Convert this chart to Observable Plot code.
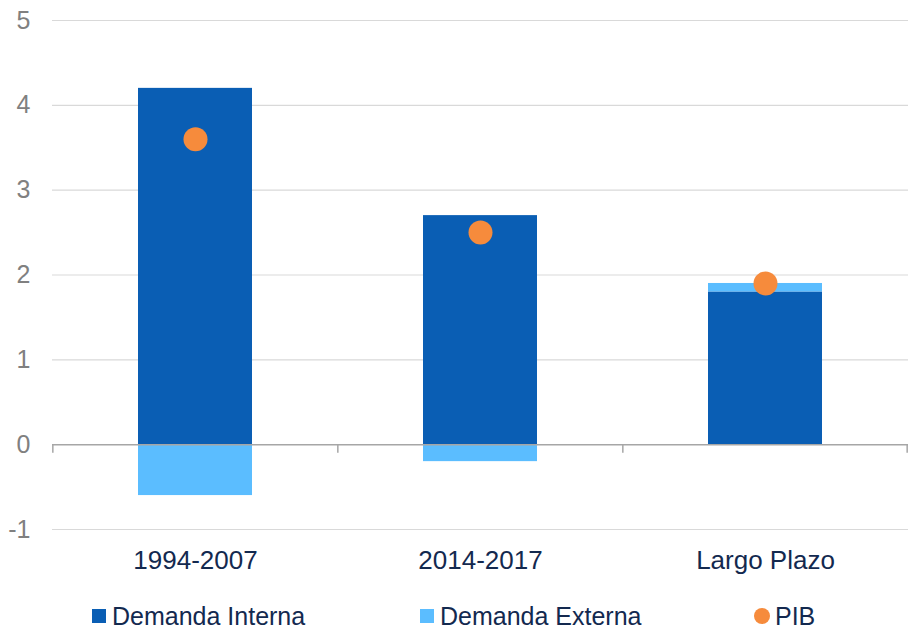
<!DOCTYPE html>
<html>
<head>
<meta charset="utf-8">
<script src="https://cdn.jsdelivr.net/npm/d3@7"></script>
<script src="https://cdn.jsdelivr.net/npm/@observablehq/plot@0.6"></script>
<style>
  body { margin: 0; background: #fff; font-family: "Liberation Sans", Arial, sans-serif; overflow: hidden; }
  #wrap { position: relative; width: 908px; height: 630px; }
  #legend { position: absolute; left: 0; top: 604px; width: 908px; height: 24px; font-size: 25px; line-height: 24px; color: #13294f; }
  .item { position: absolute; top: 0; display: flex; align-items: center; height: 24px; line-height: 24px; }
  .sw { display: inline-block; width: 14px; height: 14px; margin-right: 6px; }
  .dotsw { display: inline-block; width: 16px; height: 16px; border-radius: 50%; margin-right: 5px; }
</style>
</head>
<body>
<div id="wrap">
  <div id="chart"></div>
  <div id="legend">
    <div class="item" style="left:92px"><span class="sw" style="background:#0a5eb4"></span>Demanda Interna</div>
    <div class="item" style="left:420px"><span class="sw" style="background:#5bbdff"></span>Demanda Externa</div>
    <div class="item" style="left:754px"><span class="dotsw" style="background:#f68b3c"></span>PIB</div>
  </div>
</div>
<script>
const categories = ["1994-2007", "2014-2017", "Largo Plazo"];
const demandaInterna = [4.2, 2.7, 1.8];
const demandaExterna = [-0.6, -0.2, 0.1];
const pib = [3.6, 2.5, 1.9];
const yTicks = [-1, 0, 1, 2, 3, 4, 5];
const seriesNames = ["Demanda Interna", "Demanda Externa"];
const seriesColors = ["#0a5eb4", "#5bbdff"];

const bars = [];
categories.forEach((c, i) => {
  bars.push({cat: c, series: seriesNames[0], value: demandaInterna[i]});
  bars.push({cat: c, series: seriesNames[1], value: demandaExterna[i]});
});
const points = categories.map((c, i) => ({cat: c, value: pib[i]}));

const W = 908, ML = 52, MR = 0;
const step = (W - ML - MR) / 3;

const chart = Plot.plot({
  width: W,
  height: 590,
  marginLeft: ML,
  marginRight: MR,
  marginTop: 20,
  marginBottom: 61,
  style: {fontFamily: "Liberation Sans, Arial, sans-serif", background: "#fff"},
  x: {domain: categories, paddingInner: 0.6, paddingOuter: 0.3, label: null},
  y: {domain: [-1, 5], label: null},
  color: {domain: seriesNames, range: seriesColors},
  marks: [
    Plot.ruleY(yTicks.filter(d => d !== 0), {stroke: "#d9d9d9", strokeWidth: 1.2}),
    Plot.barY(bars, {x: "cat", y: "value", fill: "series", z: "series", order: seriesNames}),
    Plot.ruleY([0], {stroke: "#a6a6a6", strokeWidth: 1.5}),
    Plot.ruleX(categories, {x: d => d, y1: 0, y2: -0.1, dx: -step / 2, stroke: "#a6a6a6", strokeWidth: 1.5}),
    Plot.ruleX(categories.slice(-1), {x: d => d, y1: 0, y2: -0.1, dx: step / 2 - 1, stroke: "#a6a6a6", strokeWidth: 1.5}),
    Plot.dot(points, {x: "cat", y: "value", r: 12, fill: "#f68b3c"}),
    Plot.axisY(yTicks, {tickSize: 0, tickPadding: 22, fontSize: 25, fill: "#808080", tickFormat: d => d < 0 ? "-" + Math.abs(d) : String(d)}),
    Plot.axisX({tickSize: 0, tickPadding: 21, fontSize: 26, fill: "#13294f"})
  ]
});
document.getElementById("chart").appendChild(chart);
</script>
</body>
</html>
